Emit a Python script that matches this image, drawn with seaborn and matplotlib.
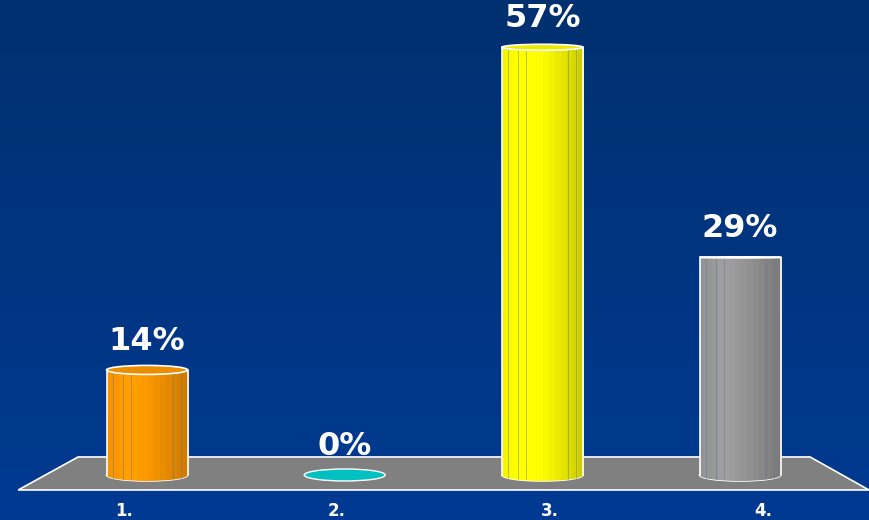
import numpy as np
import matplotlib
matplotlib.use("Agg")
import matplotlib.pyplot as plt
import seaborn as sns
from matplotlib.patches import Ellipse, Polygon, Rectangle
from matplotlib.colors import to_rgb

# data
categories = ["1.", "2.", "3.", "4."]
values = [14, 0, 57, 29]
value_labels = ["14%", "0%", "57%", "29%"]
bar_colors = ["#ff9900", "#00c0c0", "#ffff00", "#999999"]

sns.set_theme(style="white")
plt.rcParams["font.family"] = ["DejaVu Sans"]

fig = plt.figure(figsize=(8.69, 5.2), dpi=100)
ax = fig.add_axes([0, 0, 1, 1])
XLIM = (-0.744, 3.652)
YLIM = (-6.0, 63.3)


def facet_strip(color, n=14):
    """Stepped horizontal shading that fakes the faceted cylinder look."""
    base = np.array(to_rgb(color))
    t = (np.arange(n) + 0.5) / n
    f = np.interp(t, [0, 0.3, 0.55, 1], [0.95, 1.05, 0.97, 0.8])
    return np.clip(base[None, :] * f[:, None], 0, 1)[None, :, :]


sns.barplot(x=categories, y=values, hue=categories, palette=bar_colors, width=0.41,
            linewidth=0, legend=False, ax=ax, zorder=3)
patches = sorted([p for p in ax.patches if isinstance(p, Rectangle)], key=lambda p: p.get_x())

# background gradient
bg = np.linspace(0, 1, 256)[:, None, None]
top_c = np.array(to_rgb("#00306f"))
bot_c = np.array(to_rgb("#003a92"))
bg_img = top_c * (1 - bg) + bot_c * bg
ax.imshow(bg_img, extent=(*XLIM, *YLIM), aspect="auto", origin="upper", zorder=0)

# grey floor
floor = Polygon([(-0.652, -2.0), (3.652, -2.0), (3.354, 2.4), (-0.349, 2.4)],
                closed=True, facecolor="#808080", edgecolor="white", lw=1.2, zorder=1)
ax.add_patch(floor)

base_h = 1.6
top_h = [1.2, 1.7, 0.8, 0.15]

for i, p in enumerate(patches):
    x0, w, h = p.get_x(), p.get_width(), p.get_height()
    xc = x0 + w / 2
    col = bar_colors[i]
    strip = facet_strip(col)

    if h <= 0:
        ell = Ellipse((xc, 0), w, base_h, facecolor=col, edgecolor="white", lw=1, zorder=2.5)
        ax.add_patch(ell)
    else:
        # bottom rim
        ell = Ellipse((xc, 0), w, base_h, facecolor=col, edgecolor="white", lw=1.2, zorder=2.5)
        ax.add_patch(ell)
        im = ax.imshow(strip, extent=(x0, x0 + w, -base_h / 2, base_h / 2), aspect="auto",
                       interpolation="nearest", zorder=2.6)
        im.set_clip_path(ell)
        # body
        im = ax.imshow(strip, extent=(x0, x0 + w, 0, h), aspect="auto",
                       interpolation="nearest", zorder=3.1)
        im.set_clip_path(p)
        for t in [0.08, 0.2, 0.3, 0.82, 0.92]:
            ax.plot([x0 + t * w] * 2, [-base_h / 2 + 0.3, h], color="#5a6a90", lw=0.6,
                    alpha=0.45, zorder=3.2)
        ax.plot([x0, x0], [0, h], color="white", lw=1.2, zorder=4)
        ax.plot([x0 + w, x0 + w], [0, h], color="white", lw=1.2, zorder=4)
        top = Ellipse((xc, h), w, top_h[i],
                      facecolor=np.clip(np.array(to_rgb(col)) * 0.92, 0, 1),
                      edgecolor="white", lw=1.2, zorder=4)
        ax.add_patch(top)

    ax.text(xc, values[i] + 3.8, value_labels[i], ha="center", va="center", color="white",
            fontsize=23, fontweight="bold", zorder=5)
    # category labels follow the floor's front edge (perspective spread)
    ax.text(xc + (xc - 1.5) * 0.078, -4.8, categories[i], ha="center", va="center",
            color="white", fontsize=12, fontweight="bold", zorder=5)

ax.set_xlim(*XLIM)
ax.set_ylim(*YLIM)
ax.axis("off")

fig.savefig("out.png", dpi=100)
